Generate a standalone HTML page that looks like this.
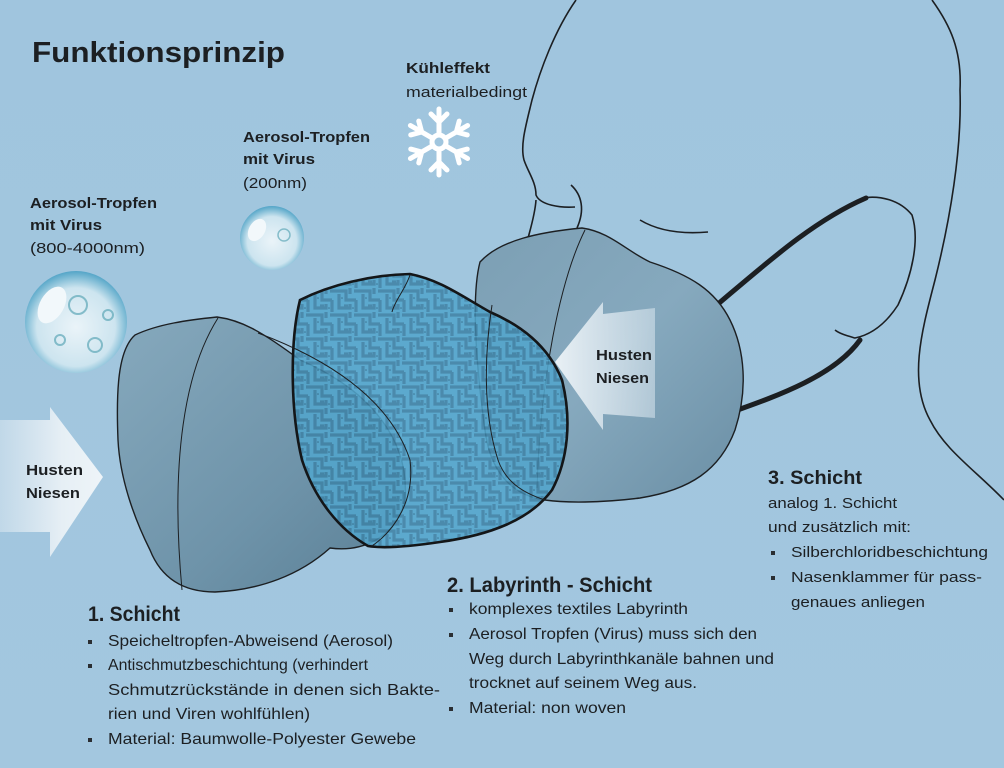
<!DOCTYPE html>
<html><head><meta charset="utf-8">
<style>
html,body{margin:0;padding:0;background:#a2c6de;}
svg{display:block}
text{font-family:"Liberation Sans",sans-serif;fill:#1c1f22}
.n{font-family:"Liberation Sans Narrow","Liberation Sans",sans-serif}
</style></head>
<body>
<svg width="1004" height="768" viewBox="0 0 1004 768" xmlns="http://www.w3.org/2000/svg">
<defs>
<linearGradient id="bg" x1="0" y1="0" x2="0" y2="1">
<stop offset="0" stop-color="#a0c5de"/><stop offset="1" stop-color="#a3c7df"/></linearGradient>
<linearGradient id="m1" x1="0" y1="0" x2="1" y2="1">
<stop offset="0" stop-color="#86a9bd"/><stop offset="0.6" stop-color="#6e93a9"/><stop offset="1" stop-color="#5a7f95"/></linearGradient>
<linearGradient id="m3" x1="0" y1="0" x2="1" y2="1">
<stop offset="0" stop-color="#7c9fb4"/><stop offset="0.5" stop-color="#86a9be"/><stop offset="1" stop-color="#6a8ea4"/></linearGradient>
<linearGradient id="arrL" x1="0" y1="0" x2="1" y2="0">
<stop offset="0" stop-color="#dfeaf2" stop-opacity="0.5"/><stop offset="0.6" stop-color="#e6eff5"/><stop offset="1" stop-color="#eef4f8"/></linearGradient>
<linearGradient id="arrR" x1="0" y1="0" x2="1" y2="0">
<stop offset="0" stop-color="#eef4f8"/><stop offset="1" stop-color="#dfeaf2" stop-opacity="0.55"/></linearGradient>
<radialGradient id="bub" cx="0.5" cy="0.55" r="0.55">
<stop offset="0" stop-color="#eef6fa"/><stop offset="0.7" stop-color="#cfe6f0"/><stop offset="1" stop-color="#4fa3c6"/></radialGradient>
<pattern id="maze" width="24" height="24" patternUnits="userSpaceOnUse">
<rect width="24" height="24" fill="#52a5cc"/>
<path d="M0 3H10V12H20M14 0V6M3 6V20H14V16M20 12V24M8 18H12M24 3H18" stroke="#3f82a5" stroke-width="3.2" fill="none"/>
<circle cx="6" cy="10" r="0.8" fill="#2f6b8a"/><circle cx="17" cy="20" r="0.8" fill="#2f6b8a"/>
</pattern>
</defs>
<rect width="1004" height="768" fill="url(#bg)"/>

<g fill="none" stroke="#1c1f22" stroke-width="1.6">
<path d="M576 0 C555 30 540 70 532 100 C526 125 520 145 524 160 C528 172 536 182 536 195 C540 205 560 208 575 207"/>
<path d="M536 200 C535 215 530 230 527 242"/>
<path d="M571 185 C582 195 585 210 577 228"/>
<path d="M640 220 C660 232 685 234 708 232"/>
<path d="M932 0 C950 25 962 50 960 90 C962 150 950 220 935 280 C922 330 908 380 930 420 C945 450 975 470 1004 500"/>
<path d="M862 198 C880 195 900 200 912 215 C920 240 912 275 898 305 C885 325 870 335 855 338 C848 336 840 334 835 330"/>
</g>
<g fill="none" stroke="#1c1f22" stroke-width="5" stroke-linecap="round">
<path d="M718 304 C770 260 815 220 866 198"/>
<path d="M732 412 C780 395 835 375 860 340"/>
</g>

<path d="M480 262 C500 240 540 232 582 228 C610 232 625 250 650 262 C690 275 715 290 730 320 C745 350 748 390 735 430 C720 470 690 490 640 498 C600 503 565 503 545 500 C510 495 490 470 485 430 C478 380 470 300 480 262Z" fill="url(#m3)" stroke="#1c1f22" stroke-width="1.4"/>
<path d="M585 230 C560 280 540 380 537 488" fill="none" stroke="#1c1f22" stroke-width="1"/>
<path d="M555 362 L603 302 L603 314 L655 308 L655 418 L603 414 L603 430 Z" fill="url(#arrR)" opacity="0.95"/>

<path d="M135 335 C158 324 188 320 217 317 C240 320 260 330 300 360 C370 390 410 440 405 500 C395 540 360 552 330 548 C300 575 260 590 215 592 C180 592 160 575 150 550 C135 520 120 480 118 440 C116 390 118 350 135 335Z" fill="url(#m1)" stroke="#1c1f22" stroke-width="1.4"/>
<path d="M218 318 C185 370 170 460 182 590" fill="none" stroke="#1c1f22" stroke-width="1"/>
<path d="M0 420 L50 420 L50 407 L103 477 L50 557 L50 532 L0 532Z" fill="url(#arrL)"/>

<path d="M300 300 C330 285 370 275 410 274 C440 280 460 295 490 312 C520 325 548 345 562 380 C572 420 568 460 552 490 C530 520 490 535 440 542 C400 548 380 548 368 546 C340 530 315 500 302 460 C290 410 290 340 300 300Z" fill="url(#maze)" fill-opacity="0.88" stroke="#141618" stroke-width="2.6"/>
<path d="M258 333 C330 360 390 400 410 460 C415 500 395 530 372 546" fill="none" stroke="#1c1f22" stroke-width="1"/>
<path d="M410 275 C405 290 395 300 392 312" fill="none" stroke="#1c1f22" stroke-width="1"/>
<path d="M492 305 C485 350 482 410 498 460 C505 480 520 492 545 500" fill="none" stroke="#1c1f22" stroke-width="1"/>

<circle cx="76" cy="322" r="51" fill="url(#bub)" opacity="0.95"/>
<ellipse cx="52" cy="305" rx="12" ry="20" fill="#f2f8fb" transform="rotate(30 52 305)"/>
<g stroke="#5fa8b8" stroke-width="2" opacity="0.7"><circle cx="78" cy="305" r="9" fill="none"/><circle cx="95" cy="345" r="7" fill="none"/><circle cx="60" cy="340" r="5" fill="none"/><circle cx="108" cy="315" r="5" fill="none"/></g>
<circle cx="272" cy="238" r="32" fill="url(#bub)" opacity="0.95"/>
<ellipse cx="257" cy="230" rx="8" ry="12" fill="#f2f8fb" transform="rotate(30 257 230)"/>
<circle cx="284" cy="235" r="6" fill="none" stroke="#5fa8b8" stroke-width="1.5" opacity="0.7"/>

<g stroke="#ffffff" stroke-width="5" stroke-linecap="round" fill="none" transform="translate(439 142)">
<g id="arm"><path d="M0 -8 V-33 M0 -20 L-8 -28 M0 -20 L8 -28"/></g>
<use href="#arm" transform="rotate(60)"/><use href="#arm" transform="rotate(120)"/><use href="#arm" transform="rotate(180)"/><use href="#arm" transform="rotate(240)"/><use href="#arm" transform="rotate(300)"/>
<circle r="7"/>
</g>

<text x="32" y="62" font-size="29" font-weight="bold" textLength="253" lengthAdjust="spacingAndGlyphs">Funktionsprinzip</text>
<text x="406" y="73" font-size="15" font-weight="bold" textLength="84" lengthAdjust="spacingAndGlyphs">Kühleffekt</text>
<text x="406" y="97" font-size="15" textLength="121" lengthAdjust="spacingAndGlyphs" fill="#2a2e32">materialbedingt</text>
<text x="243" y="142" font-size="15" font-weight="bold" textLength="127" lengthAdjust="spacingAndGlyphs">Aerosol-Tropfen</text>
<text x="243" y="164" font-size="15" font-weight="bold" textLength="72" lengthAdjust="spacingAndGlyphs">mit Virus</text>
<text x="243" y="188" font-size="15" textLength="64" lengthAdjust="spacingAndGlyphs">(200nm)</text>
<text x="30" y="208" font-size="15" font-weight="bold" textLength="127" lengthAdjust="spacingAndGlyphs">Aerosol-Tropfen</text>
<text x="30" y="230" font-size="15" font-weight="bold" textLength="72" lengthAdjust="spacingAndGlyphs">mit Virus</text>
<text x="30" y="253" font-size="15" textLength="115" lengthAdjust="spacingAndGlyphs">(800-4000nm)</text>
<text x="26" y="475" font-size="15" font-weight="bold" textLength="57" lengthAdjust="spacingAndGlyphs">Husten</text>
<text x="26" y="498" font-size="15" font-weight="bold" textLength="54" lengthAdjust="spacingAndGlyphs">Niesen</text>
<text x="596" y="360" font-size="15" font-weight="bold" textLength="56" lengthAdjust="spacingAndGlyphs">Husten</text>
<text x="596" y="383" font-size="15" font-weight="bold" textLength="53" lengthAdjust="spacingAndGlyphs">Niesen</text>

<text class="n" x="88" y="621" font-size="21" font-weight="bold" textLength="92" lengthAdjust="spacingAndGlyphs">1. Schicht</text>
<text class="n" x="108" y="646" font-size="16" textLength="285" lengthAdjust="spacingAndGlyphs">Speicheltropfen-Abweisend (Aerosol)</text>
<text class="n" x="108" y="670" font-size="16" textLength="260" lengthAdjust="spacingAndGlyphs">Antischmutzbeschichtung (verhindert</text>
<text class="n" x="108" y="695" font-size="16" textLength="332" lengthAdjust="spacingAndGlyphs">Schmutzrückstände in denen sich Bakte-</text>
<text class="n" x="108" y="719" font-size="16" textLength="202" lengthAdjust="spacingAndGlyphs">rien und Viren wohlfühlen)</text>
<text class="n" x="108" y="744" font-size="16" textLength="308" lengthAdjust="spacingAndGlyphs">Material: Baumwolle-Polyester Gewebe</text>
<text class="n" x="447" y="592" font-size="21" font-weight="bold" textLength="205" lengthAdjust="spacingAndGlyphs">2. Labyrinth - Schicht</text>
<text class="n" x="469" y="614" font-size="16" textLength="219" lengthAdjust="spacingAndGlyphs">komplexes textiles Labyrinth</text>
<text class="n" x="469" y="639" font-size="16" textLength="288" lengthAdjust="spacingAndGlyphs">Aerosol Tropfen (Virus) muss sich den</text>
<text class="n" x="469" y="664" font-size="16" textLength="305" lengthAdjust="spacingAndGlyphs">Weg durch Labyrinthkanäle bahnen und</text>
<text class="n" x="469" y="688" font-size="16" textLength="228" lengthAdjust="spacingAndGlyphs">trocknet auf seinem Weg aus.</text>
<text class="n" x="469" y="713" font-size="16" textLength="157" lengthAdjust="spacingAndGlyphs">Material: non woven</text>
<g fill="#2a2e32">
<rect x="88" y="640" width="4" height="4"/><rect x="88" y="664" width="4" height="4"/><rect x="88" y="738" width="4" height="4"/>
<rect x="449" y="608" width="4" height="4"/><rect x="449" y="633" width="4" height="4"/><rect x="449" y="707" width="4" height="4"/>
<rect x="771" y="551" width="4" height="4"/><rect x="771" y="576" width="4" height="4"/>
</g>
<text x="768" y="484" font-size="19" font-weight="bold" textLength="94" lengthAdjust="spacingAndGlyphs">3. Schicht</text>
<text x="768" y="508" font-size="15" textLength="129" lengthAdjust="spacingAndGlyphs">analog 1. Schicht</text>
<text x="768" y="532" font-size="15" textLength="143" lengthAdjust="spacingAndGlyphs">und zusätzlich mit:</text>
<text x="791" y="557" font-size="15" textLength="197" lengthAdjust="spacingAndGlyphs">Silberchloridbeschichtung</text>
<text x="791" y="582" font-size="15" textLength="191" lengthAdjust="spacingAndGlyphs">Nasenklammer für pass-</text>
<text x="791" y="607" font-size="15" textLength="134" lengthAdjust="spacingAndGlyphs">genaues anliegen</text>
</svg>
</body></html>
